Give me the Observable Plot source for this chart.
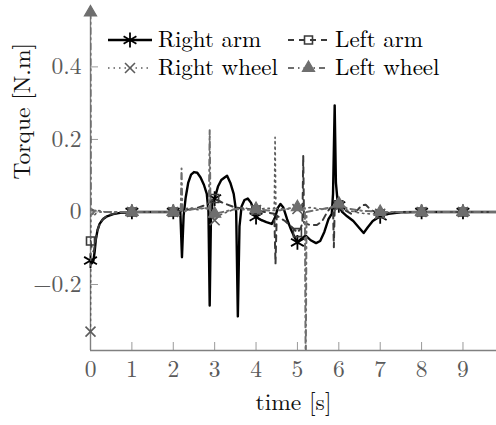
<!DOCTYPE html>
<html>
<head>
<meta charset="utf-8">
<script src="https://cdn.jsdelivr.net/npm/d3@7"></script>
<script src="https://cdn.jsdelivr.net/npm/@observablehq/plot@0.6"></script>
<style>
  html, body { margin: 0; padding: 0; background: #fff; }
  #chart { position: relative; width: 496px; height: 425px; overflow: hidden; }
  #chart svg { display: block; }
  #legend { position: absolute; left: 0; top: 0; }
</style>
</head>
<body>
<div id="chart"></div>
<script>
// Joint torques [N.m] over time [s], as [t, torque] pairs.
const rightArm = [
  [0, -0.134], [0.03, -0.142], [0.07, -0.135], [0.1, -0.11], [0.13, -0.075], [0.17, -0.05],
  [0.22, -0.033], [0.3, -0.02], [0.4, -0.012], [0.55, -0.006], [0.75, -0.002], [1, 0], [2, 0],
  [2.17, 0.002], [2.21, -0.125], [2.25, -0.01], [2.3, 0.04], [2.36, 0.08], [2.43, 0.103],
  [2.5, 0.11], [2.58, 0.108], [2.66, 0.095], [2.74, 0.075], [2.81, 0.05], [2.85, 0.0],
  [2.88, -0.258], [2.91, -0.02], [2.95, 0.03], [3, 0.037], [3.08, 0.07], [3.16, 0.088],
  [3.24, 0.095], [3.3, 0.1], [3.38, 0.08], [3.46, 0.05], [3.52, 0.0], [3.56, -0.288],
  [3.6, -0.04], [3.65, 0.015], [3.72, 0.033], [3.8, 0.037], [3.88, 0.025], [4, -0.014],
  [4.12, -0.022], [4.25, -0.028], [4.38, -0.033], [4.46, -0.015], [4.53, 0.012], [4.59, 0.022],
  [4.66, 0.012], [4.75, -0.02], [4.85, -0.05], [4.93, -0.07], [5, -0.084], [5.08, -0.075],
  [5.2, -0.065], [5.32, -0.078], [5.45, -0.086], [5.55, -0.08], [5.65, -0.055], [5.75, -0.02],
  [5.83, -0.005], [5.86, 0.05], [5.9, 0.294], [5.93, 0.08], [5.97, 0.03], [6, 0.018],
  [6.08, 0.0], [6.2, -0.012], [6.35, -0.025], [6.5, -0.045], [6.6, -0.058], [6.7, -0.042],
  [6.82, -0.025], [7, -0.012], [7.2, -0.005], [7.5, -0.001], [8, 0], [9, 0], [9.81, 0]
];
const leftArm = [
  [0, -0.08], [0.04, -0.105], [0.08, -0.11], [0.12, -0.08], [0.17, -0.05], [0.23, -0.03],
  [0.32, -0.017], [0.45, -0.008], [0.65, -0.003], [1, 0], [2, 0], [2.3, 0.005], [2.6, 0.012],
  [2.8, 0.02], [3, 0.037], [3.2, 0.025], [3.5, 0.012], [3.8, 0.008], [4, 0.005], [4.2, 0],
  [4.44, -0.005], [4.47, -0.143], [4.5, -0.01], [4.7, -0.025], [4.85, -0.04], [5, -0.057],
  [5.08, -0.045], [5.12, -0.03], [5.14, 0.156], [5.16, -0.03], [5.3, -0.036], [5.47, -0.036],
  [5.6, -0.025], [5.72, 0.0], [5.8, 0.012], [5.86, 0.012], [5.88, -0.097], [5.9, 0.01],
  [6, 0.02], [6.15, 0.005], [6.3, -0.005], [6.45, 0.005], [6.55, 0.018], [6.65, 0.02],
  [6.78, 0.005], [7, -0.005], [7.3, -0.001], [8, 0], [9, 0], [9.81, 0]
];
const rightWheel = [
  [0, -0.33], [0.01, -0.01], [0.05, 0.012], [0.1, -0.008], [0.2, 0.004], [0.35, 0], [1, 0],
  [2, 0], [2.2, 0.005], [2.4, 0.012], [2.6, 0.006], [2.78, 0.012], [2.85, 0.005],
  [2.95, -0.01], [3, -0.023], [3.1, -0.01], [3.3, 0.0], [3.5, 0.008], [3.7, 0.012],
  [3.9, 0.006], [4, 0.005], [4.2, 0.01], [4.44, 0.01], [4.46, 0.206], [4.48, 0.01],
  [4.7, 0.008], [5, 0.008], [5.3, 0.012], [5.6, 0.008], [5.85, 0.012], [6, 0.015],
  [6.2, 0.005], [6.5, -0.003], [6.8, -0.006], [7, -0.005], [7.3, -0.001], [8, 0], [9, 0], [9.81, 0]
];
const leftWheel = [
  [0, 0.55], [0.01, 0.0], [0.05, -0.006], [0.1, 0.004], [0.25, 0], [1, 0], [2, 0],
  [2.18, 0.0], [2.2, 0.12], [2.22, 0.0], [2.4, 0.006], [2.6, 0.01], [2.86, 0.01],
  [2.88, 0.225], [2.9, 0.0], [3, -0.005], [3.2, 0.0], [3.5, 0.008], [3.8, 0.006],
  [4, 0.008], [4.3, 0.004], [4.6, 0.005], [4.8, 0.01], [5, 0.013], [5.18, 0.01],
  [5.2, -0.45], [5.22, 0.0], [5.5, 0.006], [5.8, 0.012], [6, 0.023], [6.2, 0.01],
  [6.5, 0.004], [7, 0], [8, 0], [9, 0], [9.81, 0]
];

const seriesNames = ["Right arm", "Left arm", "Right wheel", "Left wheel"];
const markerTimes = [0, 1, 2, 3, 4, 5, 6, 7, 8, 9];
const xTicks = [0, 1, 2, 3, 4, 5, 6, 7, 8, 9];
const yTicks = [-0.2, 0, 0.2, 0.4];
const xLabel = "time [s]";
const yLabel = "Torque [N.m]";

// Line and mark styles per series (grayscale scheme)
const styles = [
  {data: rightArm,   stroke: "#000",    width: 2.4, dash: null,        symbol: "asterisk", d3symbol: d3.symbolAsterisk, r: 7,   fill: "none",    mw: 1.8},
  {data: leftArm,    stroke: "#3a3a3a", width: 2,   dash: "6,5",       symbol: "square",   d3symbol: d3.symbolSquare,   r: 4.5, fill: "none",    mw: 1.6},
  {data: rightWheel, stroke: "#5c5c5c", width: 1.6, dash: "1.5,4",     symbol: "times",    d3symbol: d3.symbolTimes,    r: 4.6, fill: "none",    mw: 1.6},
  {data: leftWheel,  stroke: "#6e6e6e", width: 2,   dash: "6,4,1.5,4", symbol: "triangle", d3symbol: d3.symbolTriangle, r: 4.5, fill: "#6e6e6e", mw: 1.2}
];

const fontFamily = "Latin Modern Roman, Liberation Serif, serif";
const fontSize = 23.5;
const axisColor = "#808080";
const tickTextColor = "#5a5a5a";
const fmt = d => String(d).replace("-", "\u2212");
const markersOf = s => s.filter(([t]) => markerTimes.includes(t));

const marks = [];
for (const s of styles) {
  marks.push(Plot.line(s.data, {
    x: d => d[0], y: d => d[1], stroke: s.stroke, strokeWidth: s.width,
    strokeDasharray: s.dash, strokeLinejoin: "round", clip: true
  }));
  marks.push(Plot.dot(markersOf(s.data), {
    x: d => d[0], y: d => d[1], symbol: s.symbol, r: s.r,
    stroke: s.stroke, strokeWidth: s.mw, fill: s.fill
  }));
}

const chart = Plot.plot({
  width: 496,
  height: 425,
  marginLeft: 90,
  marginRight: 0,
  marginTop: 8,
  marginBottom: 75,
  style: {fontFamily, background: "#fff", overflow: "visible"},
  x: {domain: [0, 9.81]},
  y: {domain: [-0.382, 0.561]},
  marks: [
    // inward tick marks
    Plot.axisX(xTicks, {anchor: "bottom", tickSize: -8, fill: "none", stroke: "#9a9a9a", label: null}),
    Plot.axisY(yTicks, {anchor: "left", tickSize: -8, fill: "none", stroke: "#9a9a9a", label: null}),
    // tick labels
    Plot.axisX(xTicks, {anchor: "bottom", tickSize: 0, tickPadding: 10, fill: tickTextColor,
      fontSize, fontFamily, tickFormat: fmt, label: null}),
    Plot.axisY(yTicks, {anchor: "left", tickSize: 0, tickPadding: 9, fill: tickTextColor,
      fontSize, fontFamily, tickFormat: fmt, label: null}),
    // axis lines
    Plot.ruleY([-0.382], {stroke: axisColor, strokeWidth: 1.4}),
    Plot.ruleX([0], {stroke: axisColor, strokeWidth: 1.4}),
    // axis titles
    Plot.text([xLabel], {frameAnchor: "bottom", dy: 59, fontSize, fontFamily, fill: "#111"}),
    Plot.text([yLabel], {frameAnchor: "left", rotate: -90, dx: -68, fontSize, fontFamily, fill: "#111"}),
    ...marks
  ]
});

// make sure every label uses the serif face
d3.select(chart).selectAll("text").attr("font-family", fontFamily).style("font-family", fontFamily);

const container = document.getElementById("chart");
container.appendChild(chart);

// Two-column legend in the upper part of the plot
const legend = d3.create("svg")
  .attr("id", "legend")
  .attr("width", 496)
  .attr("height", 90);
const colX = [108, 288];
const sampleW = [44, 41];
const rowY = [40, 68];
const order = [[0, 0, 0], [1, 1, 0], [2, 0, 1], [3, 1, 1]]; // [series, column, row]
for (const [i, c, r] of order) {
  const s = styles[i];
  const x0 = colX[c], w = sampleW[c], y = rowY[r];
  legend.append("line")
    .attr("x1", x0).attr("x2", x0 + w).attr("y1", y).attr("y2", y)
    .attr("stroke", s.stroke).attr("stroke-width", s.width)
    .attr("stroke-dasharray", s.dash);
  legend.append("path")
    .attr("d", d3.symbol(s.d3symbol, Math.PI * s.r * s.r)())
    .attr("transform", `translate(${x0 + w / 2},${y})`)
    .attr("stroke", s.stroke).attr("stroke-width", s.mw)
    .attr("fill", s.fill);
  legend.append("text")
    .attr("x", x0 + w + 6).attr("y", y + 7)
    .attr("font-family", fontFamily).style("font-family", fontFamily)
    .attr("font-size", 23).attr("fill", "#000")
    .text(seriesNames[i]);
}
container.appendChild(legend.node());
</script>
</body>
</html>
